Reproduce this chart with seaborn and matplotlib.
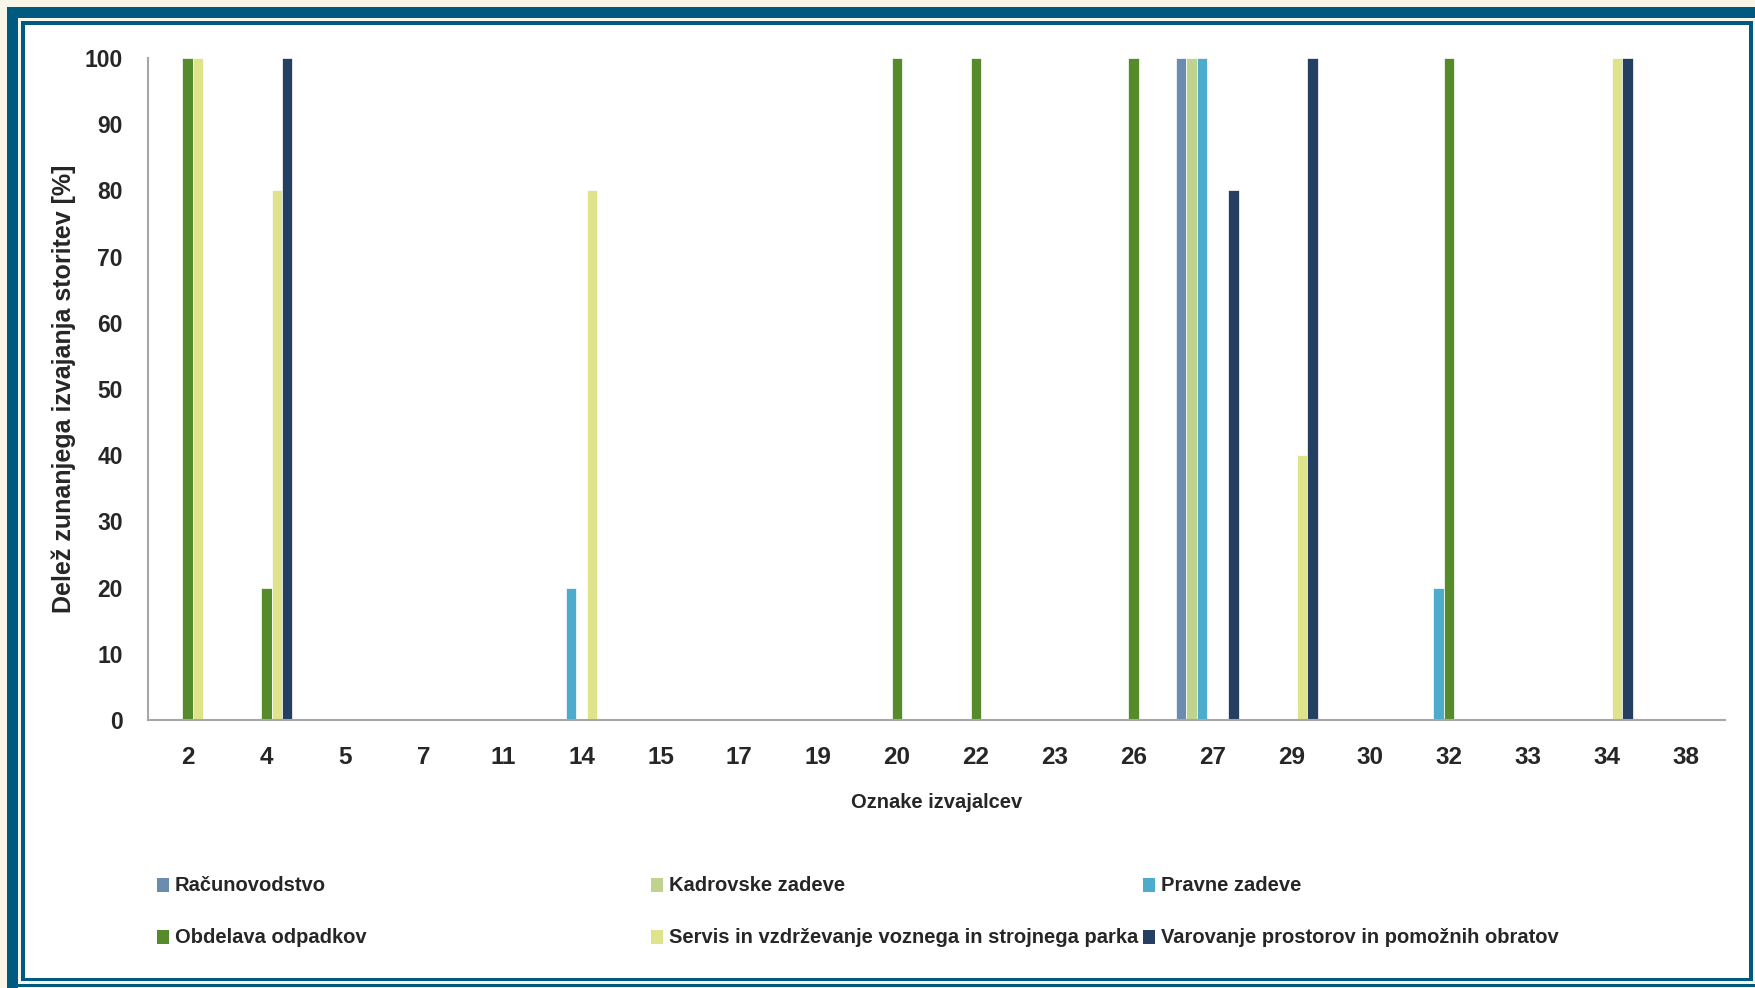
import numpy as np
import pandas as pd
import matplotlib
matplotlib.use("Agg")
import matplotlib.pyplot as plt
from matplotlib.patches import Rectangle
import seaborn as sns

# provider labels on the x axis
categories = ["2", "4", "5", "7", "11", "14", "15", "17", "19", "20",
              "22", "23", "26", "27", "29", "30", "32", "33", "34", "38"]

# share of outsourced services [%] per provider, one list per service
racunovodstvo = [0, 0, 0, 0, 0, 0, 0, 0, 0, 0, 0, 0, 0, 100, 0, 0, 0, 0, 0, 0]
kadrovske     = [0, 0, 0, 0, 0, 0, 0, 0, 0, 0, 0, 0, 0, 100, 0, 0, 0, 0, 0, 0]
pravne        = [0, 0, 0, 0, 0, 20, 0, 0, 0, 0, 0, 0, 0, 100, 0, 0, 20, 0, 0, 0]
odpadki       = [100, 20, 0, 0, 0, 0, 0, 0, 0, 100, 100, 0, 100, 0, 0, 0, 100, 0, 0, 0]
servis        = [100, 80, 0, 0, 0, 80, 0, 0, 0, 0, 0, 0, 0, 0, 40, 0, 0, 0, 100, 0]
varovanje     = [0, 100, 0, 0, 0, 0, 0, 0, 0, 0, 0, 0, 0, 80, 100, 0, 0, 0, 100, 0]

series_names = ["Računovodstvo", "Kadrovske zadeve", "Pravne zadeve",
                "Obdelava odpadkov",
                "Servis in vzdrževanje voznega in strojnega parka",
                "Varovanje prostorov in pomožnih obratov"]
series_colors = ["#6a8daf", "#bfd38e", "#4daccb", "#558b2a", "#dfe48a", "#243f61"]

FRAME = "#005a80"
CREAM = "#f8f6e8"

rows = []
for name, vals in zip(series_names, [racunovodstvo, kadrovske, pravne,
                                     odpadki, servis, varovanje]):
    for cat, v in zip(categories, vals):
        rows.append({"Oznake": cat, "Storitev": name, "Delez": v})
df = pd.DataFrame(rows)

# the original chart keeps an empty 7th slot in every group
hue_order = series_names + [" "]
palette = dict(zip(hue_order, series_colors + ["white"]))

sns.set_style("white")
plt.rcParams["font.family"] = ["Liberation Sans", "DejaVu Sans"]

W, H = 1756, 988
fig = plt.figure(figsize=(W / 100, H / 100), dpi=100, facecolor=CREAM)


def px(x0, y0, x1, y1, **kw):
    # rectangle given in pixel coords (origin top-left)
    return Rectangle((x0 / W, 1 - y1 / H), (x1 - x0) / W, (y1 - y0) / H,
                     transform=fig.transFigure, **kw)


# decorative frame, kept behind the axes
for r in [px(7, 7, W, 18), px(7, 7, 18, H), px(18, 984, W, 987),
          px(21, 21, 1753, 981)]:
    r.set(facecolor=FRAME, edgecolor="none", zorder=-3)
    fig.add_artist(r)
inner = px(25, 25, 1749, 978, facecolor="white", edgecolor="none", zorder=-2)
fig.add_artist(inner)

ax = fig.add_axes([148 / W, 1 - 720 / H, (1725 - 148) / W, (720 - 58) / H])
ax.set_facecolor("none")

sns.barplot(data=df, x="Oznake", y="Delez", hue="Storitev",
            order=categories, hue_order=hue_order, palette=palette,
            width=0.93, dodge=True, errorbar=None, legend=False,
            edgecolor="white", linewidth=0.5, saturation=1, ax=ax)

ax.set_ylim(0, 100)
ax.set_xlim(-0.5, len(categories) - 0.5)
ax.set_yticks(np.arange(0, 101, 10))
for s in ["top", "right"]:
    ax.spines[s].set_visible(False)
for s in ["left", "bottom"]:
    ax.spines[s].set_color("#a6a6a6")
    ax.spines[s].set_linewidth(1.5)
ax.tick_params(axis="y", length=7, width=1.2, color="#a6a6a6", pad=11,
               labelsize=16.5)
ax.tick_params(axis="x", length=0, pad=19, labelsize=17.5)
for t in ax.get_xticklabels() + ax.get_yticklabels():
    t.set_fontweight("bold")

ax.set_ylabel("Delež zunanjega izvajanja storitev [%]", fontsize=18,
              fontweight="bold", labelpad=6)
ax.set_xlabel("Oznake izvajalcev", fontsize=14.5, fontweight="bold",
              labelpad=17)

# legend, laid out in the 3x2 grid of the original
leg_pos = [(157, 885), (651, 885), (1143, 885),
           (157, 937), (651, 937), (1143, 937)]
for (x, y), name, col in zip(leg_pos, series_names, series_colors):
    fig.add_artist(px(x, y - 7, x + 12, y + 7, facecolor=col, edgecolor="none"))
    fig.text((x + 18) / W, 1 - y / H, name, fontsize=14.5, fontweight="bold",
             va="center", ha="left")

fig.savefig("out.png", dpi=100, facecolor=CREAM)
